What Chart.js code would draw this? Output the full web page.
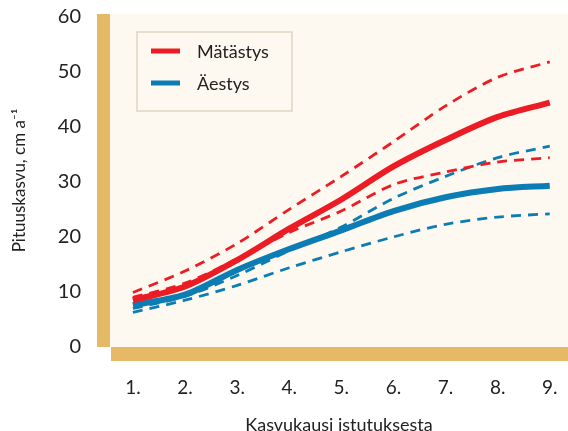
<!DOCTYPE html>
<html>
<head>
<meta charset="utf-8">
<script src="https://cdn.jsdelivr.net/npm/chart.js@4"></script>
<style>
  html, body { margin: 0; padding: 0; background: #fff; }
  #wrap { width: 568px; height: 431px; }
</style>
</head>
<body>
<div id="wrap"><canvas id="c"></canvas></div>
<script>
// data
const seasons = [1, 2, 3, 4, 5, 6, 7, 8, 9];
const matastys = [8.5, 11.0, 15.8, 21.5, 26.8, 32.8, 37.6, 41.8, 44.4];
const matastysHigh = [9.9, 13.8, 18.8, 25.0, 31.0, 37.3, 43.8, 49.0, 51.8];
const matastysLow = [9.0, 11.6, 16.0, 20.8, 24.7, 29.5, 31.8, 33.6, 34.4];
const aestys = [7.6, 9.5, 14.0, 17.8, 21.2, 24.7, 27.2, 28.7, 29.3];
const aestysHigh = [7.0, 9.2, 13.0, 17.5, 21.8, 27.0, 31.0, 34.4, 36.5];
const aestysLow = [6.3, 8.5, 11.2, 14.4, 17.3, 20.0, 22.3, 23.6, 24.2];
const yTicks = [0, 10, 20, 30, 40, 50, 60];

const RED = "#ec1c24";
const BLUE = "#0b7db4";
const GOLD = "#e6b966";
const CREAM = "#fdf9f0";
const FONT = "Lato, 'DejaVu Sans', sans-serif";

// background, gold bars and the legend box
const framePlugin = {
  id: "frame",
  beforeDraw(chart) {
    const { ctx, chartArea: a } = chart;
    ctx.save();
    ctx.fillStyle = "#fff";
    ctx.fillRect(0, 0, chart.width, chart.height);
    ctx.fillStyle = CREAM;
    ctx.fillRect(a.left, a.top, a.right - a.left, a.bottom - a.top);
    ctx.fillStyle = GOLD;
    ctx.fillRect(a.left - 13, a.top, 13, a.bottom - a.top);
    ctx.fillRect(a.left + 1, a.bottom, a.right - a.left, 14);
    ctx.restore();
  },
  afterDatasetsDraw(chart) {
    const { ctx, chartArea: a } = chart;
    const x = a.left + 27, y = a.top + 18;
    ctx.save();
    ctx.fillStyle = CREAM;
    ctx.strokeStyle = "#dbd6c2";
    ctx.lineWidth = 1.5;
    ctx.fillRect(x, y, 155, 79);
    ctx.strokeRect(x, y, 155, 79);
    const items = chart.data.datasets.filter(d => d.showInLegend);
    items.forEach((d, i) => {
      const ly = y + 19 + i * 32;
      ctx.strokeStyle = d.borderColor;
      ctx.lineWidth = 5;
      ctx.beginPath();
      ctx.moveTo(x + 14, ly);
      ctx.lineTo(x + 43, ly);
      ctx.stroke();
      ctx.fillStyle = "#222";
      ctx.font = "18px " + FONT;
      ctx.textBaseline = "middle";
      ctx.fillText(d.label, x + 60, ly + 1);
    });
    ctx.restore();
  }
};

function dashed(label, data, color) {
  return {
    label, data, borderColor: color, backgroundColor: color,
    borderWidth: 2.8, borderDash: [10, 7], pointRadius: 0, tension: 0.3, fill: false
  };
}
function solid(label, data, color) {
  return {
    label, data, borderColor: color, backgroundColor: color, showInLegend: true,
    borderWidth: 6, pointRadius: 0, tension: 0.3, fill: false
  };
}

new Chart(document.getElementById("c"), {
  type: "line",
  data: {
    labels: seasons,
    datasets: [
      solid("Mätästys", matastys, RED),
      solid("Äestys", aestys, BLUE),
      dashed("Mätästys yläraja", matastysHigh, RED),
      dashed("Mätästys alaraja", matastysLow, RED),
      dashed("Äestys yläraja", aestysHigh, BLUE),
      dashed("Äestys alaraja", aestysLow, BLUE)
    ]
  },
  options: {
    responsive: true,
    maintainAspectRatio: false,
    animation: false,
    layout: { padding: { top: 14, right: 0, left: 0, bottom: 0 } },
    plugins: { legend: { display: false }, tooltip: { enabled: false } },
    scales: {
      x: {
        type: "linear",
        min: 0.56,
        max: 9.35,
        afterFit: s => {
          s.height = 84;
          s.paddingLeft = 0; s.paddingRight = 0;
        },
        afterBuildTicks: s => { s.ticks = seasons.map(v => ({ value: v })); },
        grid: { display: false, drawTicks: false },
        border: { display: false },
        ticks: {
          padding: 29,
          color: "#222",
          font: { family: FONT, size: 19 },
          callback: v => v + "."
        },
        title: {
          display: true,
          text: "Kasvukausi istutuksesta",
          color: "#222",
          font: { family: FONT, size: 18 },
          padding: { top: 0, bottom: -5 }
        }
      },
      y: {
        min: 0,
        max: 60.5,
        afterFit: s => {
          s.width = 110;
          s.paddingTop = 0; s.paddingBottom = 0;
        },
        afterBuildTicks: s => { s.ticks = yTicks.map(v => ({ value: v })); },
        grid: { display: false, drawTicks: false },
        border: { display: false },
        ticks: {
          padding: 29,
          color: "#222",
          font: { family: FONT, size: 20 }
        },
        title: {
          display: true,
          text: "Pituuskasvu, cm a⁻¹",
          color: "#222",
          font: { family: FONT, size: 17 },
          padding: { top: 9, bottom: 4 }
        }
      }
    }
  },
  plugins: [framePlugin]
});
</script>
</body>
</html>
